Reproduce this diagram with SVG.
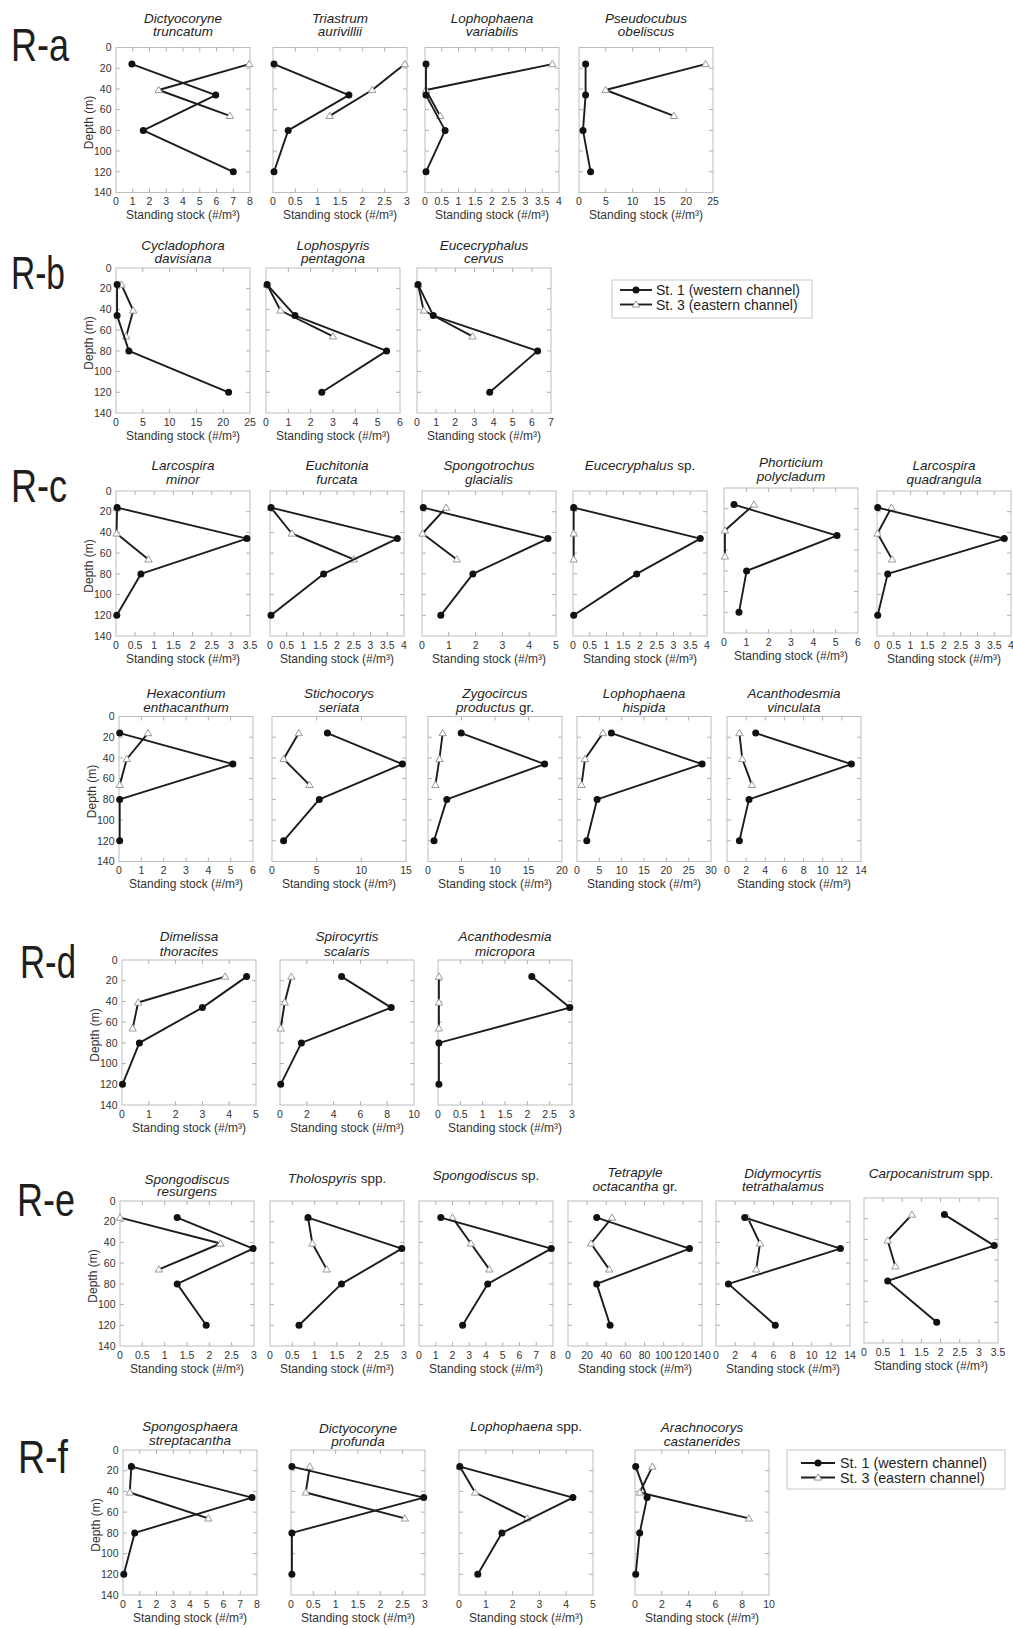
<svg xmlns="http://www.w3.org/2000/svg" width="1013" height="1629" viewBox="0 0 1013 1629">
<style>
text{font-family:"Liberation Sans",Arial,sans-serif;fill:#1e1e1e}
.box{fill:none;stroke:#bdbdbd;stroke-width:1}
.tk{fill:none;stroke:#b0b0b0;stroke-width:1}
.tl{font-size:10.5px;text-anchor:middle;fill:#333}
.yl{font-size:10.5px;text-anchor:end;fill:#333}
.at{font-size:12px;text-anchor:middle;fill:#333}
.ti{font-size:13.5px;font-style:italic;text-anchor:middle}
.big{font-size:47px}
.lg{font-size:14px}
.s1,.s3,.l1,.l3{fill:none;stroke:#1c1c1c;stroke-width:1.9;stroke-linejoin:round}
.s1{marker-start:url(#mc);marker-mid:url(#mc);marker-end:url(#mc)}
.s3{marker-start:url(#mt);marker-mid:url(#mt);marker-end:url(#mt)}
.l1{marker-mid:url(#mc)}
.l3{marker-mid:url(#mt)}
.lb{fill:#fff;stroke:#c8c8c8;stroke-width:1}
</style>
<defs>
<marker id="mc" markerUnits="userSpaceOnUse" markerWidth="10" markerHeight="10" refX="5" refY="5" orient="0" overflow="visible"><circle cx="5" cy="5" r="3.5" fill="#111"/></marker>
<marker id="mt" markerUnits="userSpaceOnUse" markerWidth="10" markerHeight="10" refX="5" refY="5" orient="0" overflow="visible"><path d="M5,1.3L8.7,7.6H1.3Z" fill="#fff" stroke="#9a9a9a" stroke-width="1"/></marker>
<g id="fr"><rect class="box" x="0" y="0" width="134" height="145"/><path class="tk" d="M0,20.7h4M0,41.4h4M0,62.1h4M0,82.9h4M0,103.6h4M0,124.3h4M134,20.7h-4M134,41.4h-4M134,62.1h-4M134,82.9h-4M134,103.6h-4M134,124.3h-4"/></g>
<path id="xt3" class="tk" d="M44.67,0v4M89.33,0v4M44.67,145v-4M89.33,145v-4"/>
<path id="xt4" class="tk" d="M33.5,0v4M67,0v4M100.5,0v4M33.5,145v-4M67,145v-4M100.5,145v-4"/>
<path id="xt5" class="tk" d="M26.8,0v4M53.6,0v4M80.4,0v4M107.2,0v4M26.8,145v-4M53.6,145v-4M80.4,145v-4M107.2,145v-4"/>
<path id="xt6" class="tk" d="M22.33,0v4M44.67,0v4M67,0v4M89.33,0v4M111.67,0v4M22.33,145v-4M44.67,145v-4M67,145v-4M89.33,145v-4M111.67,145v-4"/>
<path id="xt7" class="tk" d="M19.14,0v4M38.29,0v4M57.43,0v4M76.57,0v4M95.71,0v4M114.86,0v4M19.14,145v-4M38.29,145v-4M57.43,145v-4M76.57,145v-4M95.71,145v-4M114.86,145v-4"/>
<path id="xt8" class="tk" d="M16.75,0v4M33.5,0v4M50.25,0v4M67,0v4M83.75,0v4M100.5,0v4M117.25,0v4M16.75,145v-4M33.5,145v-4M50.25,145v-4M67,145v-4M83.75,145v-4M100.5,145v-4M117.25,145v-4"/>
<text id="sst" class="at" x="67" y="171.5">Standing stock (#/m³)</text>
<g id="a_i8"><use href="#xt8"/><use href="#sst"/><text class="tl" y="157.5"><tspan x="0">0</tspan><tspan x="16.75">1</tspan><tspan x="33.5">2</tspan><tspan x="50.25">3</tspan><tspan x="67">4</tspan><tspan x="83.75">5</tspan><tspan x="100.5">6</tspan><tspan x="117.25">7</tspan><tspan x="134">8</tspan></text></g>
<g id="a_h6"><use href="#xt6"/><use href="#sst"/><text class="tl" y="157.5"><tspan x="0">0</tspan><tspan x="22.33">0.5</tspan><tspan x="44.67">1</tspan><tspan x="67">1.5</tspan><tspan x="89.33">2</tspan><tspan x="111.67">2.5</tspan><tspan x="134">3</tspan></text></g>
<g id="a_h8"><use href="#xt8"/><use href="#sst"/><text class="tl" y="157.5"><tspan x="0">0</tspan><tspan x="16.75">0.5</tspan><tspan x="33.5">1</tspan><tspan x="50.25">1.5</tspan><tspan x="67">2</tspan><tspan x="83.75">2.5</tspan><tspan x="100.5">3</tspan><tspan x="117.25">3.5</tspan><tspan x="134">4</tspan></text></g>
<g id="a_5x5"><use href="#xt5"/><use href="#sst"/><text class="tl" y="157.5"><tspan x="0">0</tspan><tspan x="26.8">5</tspan><tspan x="53.6">10</tspan><tspan x="80.4">15</tspan><tspan x="107.2">20</tspan><tspan x="134">25</tspan></text></g>
<g id="a_i6"><use href="#xt6"/><use href="#sst"/><text class="tl" y="157.5"><tspan x="0">0</tspan><tspan x="22.33">1</tspan><tspan x="44.67">2</tspan><tspan x="67">3</tspan><tspan x="89.33">4</tspan><tspan x="111.67">5</tspan><tspan x="134">6</tspan></text></g>
<g id="a_i7"><use href="#xt7"/><use href="#sst"/><text class="tl" y="157.5"><tspan x="0">0</tspan><tspan x="19.14">1</tspan><tspan x="38.29">2</tspan><tspan x="57.43">3</tspan><tspan x="76.57">4</tspan><tspan x="95.71">5</tspan><tspan x="114.86">6</tspan><tspan x="134">7</tspan></text></g>
<g id="a_h7"><use href="#xt7"/><use href="#sst"/><text class="tl" y="157.5"><tspan x="0">0</tspan><tspan x="19.14">0.5</tspan><tspan x="38.29">1</tspan><tspan x="57.43">1.5</tspan><tspan x="76.57">2</tspan><tspan x="95.71">2.5</tspan><tspan x="114.86">3</tspan><tspan x="134">3.5</tspan></text></g>
<g id="a_i5"><use href="#xt5"/><use href="#sst"/><text class="tl" y="157.5"><tspan x="0">0</tspan><tspan x="26.8">1</tspan><tspan x="53.6">2</tspan><tspan x="80.4">3</tspan><tspan x="107.2">4</tspan><tspan x="134">5</tspan></text></g>
<g id="a_5x3"><use href="#xt3"/><use href="#sst"/><text class="tl" y="157.5"><tspan x="0">0</tspan><tspan x="44.67">5</tspan><tspan x="89.33">10</tspan><tspan x="134">15</tspan></text></g>
<g id="a_5x4"><use href="#xt4"/><use href="#sst"/><text class="tl" y="157.5"><tspan x="0">0</tspan><tspan x="33.5">5</tspan><tspan x="67">10</tspan><tspan x="100.5">15</tspan><tspan x="134">20</tspan></text></g>
<g id="a_5x6"><use href="#xt6"/><use href="#sst"/><text class="tl" y="157.5"><tspan x="0">0</tspan><tspan x="22.33">5</tspan><tspan x="44.67">10</tspan><tspan x="67">15</tspan><tspan x="89.33">20</tspan><tspan x="111.67">25</tspan><tspan x="134">30</tspan></text></g>
<g id="a_2x7"><use href="#xt7"/><use href="#sst"/><text class="tl" y="157.5"><tspan x="0">0</tspan><tspan x="19.14">2</tspan><tspan x="38.29">4</tspan><tspan x="57.43">6</tspan><tspan x="76.57">8</tspan><tspan x="95.71">10</tspan><tspan x="114.86">12</tspan><tspan x="134">14</tspan></text></g>
<g id="a_2x5"><use href="#xt5"/><use href="#sst"/><text class="tl" y="157.5"><tspan x="0">0</tspan><tspan x="26.8">2</tspan><tspan x="53.6">4</tspan><tspan x="80.4">6</tspan><tspan x="107.2">8</tspan><tspan x="134">10</tspan></text></g>
<g id="a_20x7"><use href="#xt7"/><use href="#sst"/><text class="tl" y="157.5"><tspan x="0">0</tspan><tspan x="19.14">20</tspan><tspan x="38.29">40</tspan><tspan x="57.43">60</tspan><tspan x="76.57">80</tspan><tspan x="95.71">100</tspan><tspan x="114.86">120</tspan><tspan x="134">140</tspan></text></g>
<g id="yax"><text class="yl"><tspan x="-4.5" y="3.7">0</tspan><tspan x="-4.5" y="24.4">20</tspan><tspan x="-4.5" y="45.1">40</tspan><tspan x="-4.5" y="65.8">60</tspan><tspan x="-4.5" y="86.6">80</tspan><tspan x="-4.5" y="107.3">100</tspan><tspan x="-4.5" y="128">120</tspan><tspan x="-4.5" y="148.7">140</tspan></text><text class="at" transform="translate(-23.5,75) rotate(-90)">Depth (m)</text></g>
</defs>
<rect width="1013" height="1629" fill="#fff"/>

<g id="row-labels">
<text class="big" x="11" y="60.5" textLength="58" lengthAdjust="spacingAndGlyphs">R-a</text>
<text class="big" x="11" y="289" textLength="54" lengthAdjust="spacingAndGlyphs">R-b</text>
<text class="big" x="11" y="502" textLength="56" lengthAdjust="spacingAndGlyphs">R-c</text>
<text class="big" x="20" y="978" textLength="56" lengthAdjust="spacingAndGlyphs">R-d</text>
<text class="big" x="17" y="1216" textLength="58" lengthAdjust="spacingAndGlyphs">R-e</text>
<text class="big" x="18" y="1473" textLength="50" lengthAdjust="spacingAndGlyphs">R-f</text>
</g>

<!-- R-a -->
<g id="p-a1" transform="translate(116,47.5)"><use href="#fr"/><use href="#a_i8"/><use href="#yax"/>
<text class="ti" x="67" y="-25">Dictyocoryne</text><text class="ti" x="67" y="-11.5">truncatum</text>
<polyline class="s3" points="133.2,16.6 42.7,42.5 113.9,68.4"/>
<polyline class="s1" points="15.9,16.6 99.7,47.6 27.3,82.9 117.3,124.3"/></g>
<g id="p-a2" transform="translate(273,47.5)"><use href="#fr"/><use href="#a_h6"/>
<text class="ti" x="67" y="-25">Triastrum</text><text class="ti" x="67" y="-11.5">aurivillii</text>
<polyline class="s3" points="131.8,16.6 99.2,42.5 56.7,68.4"/>
<polyline class="s1" points="1,16.6 75.9,47.6 15.2,82.9 1,124.3"/></g>
<g id="p-a3" transform="translate(425,47.5)"><use href="#fr"/><use href="#a_h8"/>
<text class="ti" x="67" y="-25">Lophophaena</text><text class="ti" x="67" y="-11.5">variabilis</text>
<polyline class="s3" points="127.3,16.6 1,42.5 15.1,68.4"/>
<polyline class="s1" points="1,16.6 1,47.6 20.1,82.9 1,124.3"/></g>
<g id="p-a4" transform="translate(579,47.5)"><use href="#fr"/><use href="#a_5x5"/>
<text class="ti" x="67" y="-25">Pseudocubus</text><text class="ti" x="67" y="-11.5">obeliscus</text>
<polyline class="s3" points="126.5,16.6 26.6,42.5 94.9,68.4"/>
<polyline class="s1" points="6.6,16.6 6.6,47.6 4,82.9 11.6,124.3"/></g>

<!-- R-b -->
<g id="p-b1" transform="translate(116,268)"><use href="#fr"/><use href="#a_5x5"/><use href="#yax"/>
<text class="ti" x="67" y="-18.5">Cycladophora</text><text class="ti" x="67" y="-5">davisiana</text>
<polyline class="s3" points="5.4,16.6 17.2,42.5 10.2,68.4"/>
<polyline class="s1" points="1.1,16.6 1.1,47.6 12.9,82.9 112.6,124.3"/></g>
<g id="p-b2" transform="translate(266,268)"><use href="#fr"/><use href="#a_i6"/>
<text class="ti" x="67" y="-18.5">Lophospyris</text><text class="ti" x="67" y="-5">pentagona</text>
<polyline class="s3" points="1.1,16.6 14.5,42.5 67,68.4"/>
<polyline class="s1" points="1.1,16.6 29,47.6 120.6,82.9 55.8,124.3"/></g>
<g id="p-b3" transform="translate(417,268)"><use href="#fr"/><use href="#a_i7"/>
<text class="ti" x="67" y="-18.5">Eucecryphalus</text><text class="ti" x="67" y="-5">cervus</text>
<polyline class="s3" points="1,16.6 6.7,42.5 55.5,68.4"/>
<polyline class="s1" points="1,16.6 16.3,47.6 120.6,82.9 72.7,124.3"/></g>
<g id="legend-b">
<rect class="lb" x="612" y="280" width="200" height="38"/>
<polyline class="l1" points="620,290 636,290 652,290"/>
<polyline class="l3" points="620,304.5 636,304.5 652,304.5"/>
<text class="lg" x="656" y="295">St. 1 (western channel)</text>
<text class="lg" x="656" y="309.5">St. 3 (eastern channel)</text>
</g>

<!-- R-c row 1 -->
<g id="p-c1" transform="translate(116,491)"><use href="#fr"/><use href="#a_h7"/><use href="#yax"/>
<text class="ti" x="67" y="-21.5">Larcospira</text><text class="ti" x="67" y="-7.5">minor</text>
<polyline class="s3" points="1.1,16.6 0.5,42.5 32.5,68.4"/>
<polyline class="s1" points="1.1,16.6 130.9,47.6 24.9,82.9 0.8,124.3"/></g>
<g id="p-c2" transform="translate(270,491)"><use href="#fr"/><use href="#a_h8"/>
<text class="ti" x="67" y="-21.5">Euchitonia</text><text class="ti" x="67" y="-7.5">furcata</text>
<polyline class="s3" points="1,16.6 21.8,42.5 83.8,68.4"/>
<polyline class="s1" points="1,16.6 127.3,47.6 53.6,82.9 1,124.3"/></g>
<g id="p-c3" transform="translate(422,491)"><use href="#fr"/><use href="#a_i5"/>
<text class="ti" x="67" y="-21.5">Spongotrochus</text><text class="ti" x="67" y="-7.5">glacialis</text>
<polyline class="s3" points="24.1,16.6 0.5,42.5 34.8,68.4"/>
<polyline class="s1" points="1.3,16.6 126,47.6 50.9,82.9 18.8,124.3"/></g>
<g id="p-c4" transform="translate(573,491)"><use href="#fr"/><use href="#a_h8"/>
<text class="ti" x="67" y="-21.5">Eucecryphalus<tspan font-style="normal"> sp.</tspan></text>
<polyline class="s3" points="0.7,16.6 0.7,42.5 0.7,68.4"/>
<polyline class="s1" points="0.7,16.6 127.3,47.6 63.7,82.9 0.7,124.3"/></g>
<g id="p-c5" transform="translate(724,488)"><use href="#fr"/><use href="#a_i6"/>
<text class="ti" x="67" y="-21.5">Phorticium</text><text class="ti" x="67" y="-7.5">polycladum</text>
<polyline class="s3" points="29.9,16.6 0.9,42.5 0.9,68.4"/>
<polyline class="s1" points="10,16.6 113,47.6 22.6,82.9 15,124.3"/></g>
<g id="p-c6" transform="translate(877,491)"><use href="#fr"/><use href="#a_h8"/>
<text class="ti" x="67" y="-21.5">Larcospira</text><text class="ti" x="67" y="-7.5">quadrangula</text>
<polyline class="s3" points="14.4,16.6 0.5,42.5 15.1,68.4"/>
<polyline class="s1" points="0.7,16.6 127.3,47.6 10.7,82.9 0.7,124.3"/></g>

<!-- R-c row 2 -->
<g id="p-c7" transform="translate(119,716.5)"><use href="#fr"/><use href="#a_i6"/><use href="#yax"/>
<text class="ti" x="67" y="-19">Hexacontium</text><text class="ti" x="67" y="-5">enthacanthum</text>
<polyline class="s3" points="29,16.6 7.8,42.5 0.7,68.4"/>
<polyline class="s1" points="0.7,16.6 113.9,47.6 0.7,82.9 0.7,124.3"/></g>
<g id="p-c8" transform="translate(272,716.5)"><use href="#fr"/><use href="#a_5x3"/>
<text class="ti" x="67" y="-19">Stichocorys</text><text class="ti" x="67" y="-5">seriata</text>
<polyline class="s3" points="26.8,16.6 11.6,42.5 37.5,68.4"/>
<polyline class="s1" points="55.4,16.6 130.4,47.6 47.3,82.9 11.6,124.3"/></g>
<g id="p-c9" transform="translate(428,716.5)"><use href="#fr"/><use href="#a_5x4"/>
<text class="ti" x="67" y="-19">Zygocircus</text><text class="ti" x="67" y="-5">productus<tspan font-style="normal"> gr.</tspan></text>
<polyline class="s3" points="14.7,16.6 11.4,42.5 7.4,68.4"/>
<polyline class="s1" points="33.2,16.6 116.6,47.6 18.8,82.9 6,124.3"/></g>
<g id="p-c10" transform="translate(577,716.5)"><use href="#fr"/><use href="#a_5x6"/>
<text class="ti" x="67" y="-19">Lophophaena</text><text class="ti" x="67" y="-5">hispida</text>
<polyline class="s3" points="25.9,16.6 8,42.5 4.5,68.4"/>
<polyline class="s1" points="34.4,16.6 125.1,47.6 20.1,82.9 9.8,124.3"/></g>
<g id="p-c11" transform="translate(727,716.5)"><use href="#fr"/><use href="#a_2x7"/>
<text class="ti" x="67" y="-19">Acanthodesmia</text><text class="ti" x="67" y="-5">vinculata</text>
<polyline class="s3" points="12.4,16.6 15.3,42.5 24.9,68.4"/>
<polyline class="s1" points="28.7,16.6 124.4,47.6 22,82.9 12.4,124.3"/></g>

<!-- R-d -->
<g id="p-d1" transform="translate(122,960)"><use href="#fr"/><use href="#a_i5"/><use href="#yax"/>
<text class="ti" x="67" y="-19">Dimelissa</text><text class="ti" x="67" y="-4.5">thoracites</text>
<polyline class="s3" points="103.2,16.6 16.1,42.5 10.7,68.4"/>
<polyline class="s1" points="124.6,16.6 80.4,47.6 17.4,82.9 0.5,124.3"/></g>
<g id="p-d2" transform="translate(280,960)"><use href="#fr"/><use href="#a_2x5"/>
<text class="ti" x="67" y="-19">Spirocyrtis</text><text class="ti" x="67" y="-4.5">scalaris</text>
<polyline class="s3" points="11.4,16.6 4.7,42.5 0.7,68.4"/>
<polyline class="s1" points="61.6,16.6 111.2,47.6 21.4,82.9 0.7,124.3"/></g>
<g id="p-d3" transform="translate(438,960)"><use href="#fr"/><use href="#a_h6"/>
<text class="ti" x="67" y="-19">Acanthodesmia</text><text class="ti" x="67" y="-4.5">micropora</text>
<polyline class="s3" points="0.9,16.6 0.9,42.5 0.9,68.4"/>
<polyline class="s1" points="93.8,16.6 131.8,47.6 0.9,82.9 0.9,124.3"/></g>

<!-- R-e -->
<g id="p-e1" transform="translate(120,1201)"><use href="#fr"/><use href="#a_h6"/><use href="#yax"/>
<text class="ti" x="67" y="-17">Spongodiscus</text><text class="ti" x="67" y="-5">resurgens</text>
<polyline class="s3" points="0,16.6 100.5,42.5 38.9,68.4"/>
<polyline class="s1" points="57.2,16.6 133.1,47.6 57.2,82.9 86.2,124.3"/></g>
<g id="p-e2" transform="translate(270,1201)"><use href="#fr"/><use href="#a_h6"/>
<text class="ti" x="67" y="-18.5">Tholospyris<tspan font-style="normal"> spp.</tspan></text>
<polyline class="s3" points="38,16.6 42.4,42.5 56.7,68.4"/>
<polyline class="s1" points="38,16.6 131.8,47.6 71.5,82.9 29,124.3"/></g>
<g id="p-e3" transform="translate(419,1201)"><use href="#fr"/><use href="#a_i8"/>
<text class="ti" x="67" y="-21.5">Spongodiscus<tspan font-style="normal"> sp.</tspan></text>
<polyline class="s3" points="33.5,16.6 51.9,42.5 70.4,68.4"/>
<polyline class="s1" points="21.8,16.6 132.3,47.6 68.7,82.9 43.6,124.3"/></g>
<g id="p-e4" transform="translate(568,1201)"><use href="#fr"/><use href="#a_20x7"/>
<text class="ti" x="67" y="-24">Tetrapyle</text><text class="ti" x="67" y="-10.5">octacantha<tspan font-style="normal"> gr.</tspan></text>
<polyline class="s3" points="44,16.6 23,42.5 41.2,68.4"/>
<polyline class="s1" points="28.7,16.6 121.5,47.6 28.7,82.9 42.1,124.3"/></g>
<g id="p-e5" transform="translate(716,1201)"><use href="#fr"/><use href="#a_2x7"/>
<text class="ti" x="67" y="-23.5">Didymocyrtis</text><text class="ti" x="67" y="-10">tetrathalamus</text>
<polyline class="s3" points="31.6,16.6 44,42.5 40.2,68.4"/>
<polyline class="s1" points="28.7,16.6 124.4,47.6 12.4,82.9 59.3,124.3"/></g>
<g id="p-e6" transform="translate(864,1198)"><use href="#fr"/><use href="#a_h7"/>
<text class="ti" x="67" y="-20.5">Carpocanistrum<tspan font-style="normal"> spp.</tspan></text>
<polyline class="s3" points="47.9,16.6 23.7,42.5 31.4,68.4"/>
<polyline class="s1" points="80.4,16.6 130.2,47.6 23.7,82.9 72.7,124.3"/></g>

<!-- R-f -->
<g id="p-f1" transform="translate(123,1450)"><use href="#fr"/><use href="#a_i8"/><use href="#yax"/>
<text class="ti" x="67" y="-19">Spongosphaera</text><text class="ti" x="67" y="-5">streptacantha</text>
<polyline class="s3" points="8.4,16.6 6.7,42.5 85.4,68.4"/>
<polyline class="s1" points="8.4,16.6 129,47.6 11.7,82.9 0.8,124.3"/></g>
<g id="p-f2" transform="translate(291,1450)"><use href="#fr"/><use href="#a_h6"/>
<text class="ti" x="67" y="-17">Dictyocoryne</text><text class="ti" x="67" y="-4">profunda</text>
<polyline class="s3" points="18.8,16.6 14.7,42.5 113.9,68.4"/>
<polyline class="s1" points="0.9,16.6 132.7,47.6 0.9,82.9 0.9,124.3"/></g>
<g id="p-f3" transform="translate(459,1450)"><use href="#fr"/><use href="#a_i5"/>
<text class="ti" x="67" y="-19">Lophophaena<tspan font-style="normal"> spp.</tspan></text>
<polyline class="s3" points="0.8,16.6 16.1,42.5 68.3,68.4"/>
<polyline class="s1" points="0.8,16.6 113.9,47.6 42.9,82.9 18.8,124.3"/></g>
<g id="p-f4" transform="translate(635,1450)"><use href="#fr"/><use href="#a_2x5"/>
<text class="ti" x="67" y="-18">Arachnocorys</text><text class="ti" x="67" y="-4">castanerides</text>
<polyline class="s3" points="17.4,16.6 4.7,42.5 113.9,68.4"/>
<polyline class="s1" points="0.7,16.6 12.1,47.6 4.7,82.9 0.7,124.3"/></g>
<g id="legend-f">
<rect class="lb" x="787" y="1450" width="218" height="39"/>
<polyline class="l1" points="801,1463 818,1463 835,1463"/>
<polyline class="l3" points="801,1477.5 818,1477.5 835,1477.5"/>
<text class="lg" x="840" y="1468" style="font-size:14.3px">St. 1 (western channel)</text>
<text class="lg" x="840" y="1482.5" style="font-size:14.3px">St. 3 (eastern channel)</text>
</g>
</svg>
